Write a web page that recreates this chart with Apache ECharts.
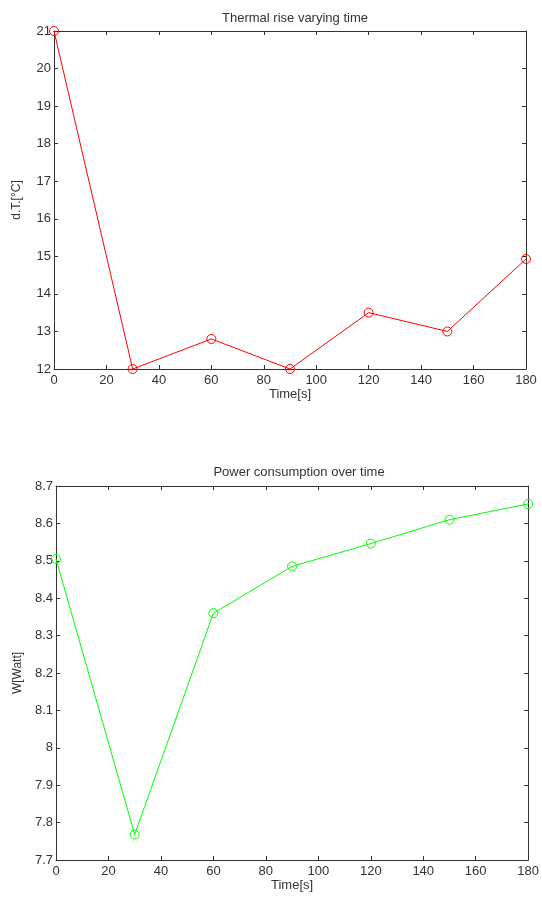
<!DOCTYPE html>
<html><head><meta charset="utf-8">
<script src="https://cdn.jsdelivr.net/npm/echarts@6/dist/echarts.min.js"></script>
<style>html,body{margin:0;padding:0;background:#fff}#c{width:542px;height:902px}</style>
</head><body><div id="c"></div>
<script>
var timeS = [0, 30, 60, 90, 120, 150, 180];
var thermalRise = [21, 12, 12.8, 12, 13.5, 13, 14.93];
var powerW = [8.505, 7.768, 8.36, 8.485, 8.546, 8.61, 8.652];
var title1 = 'Thermal rise varying time';
var title2 = 'Power consumption over time';

var FONT = 'Liberation Sans, Arial, sans-serif';
var TXT = '#333';
var AX = '#333';
function pairs(xs, ys){ return xs.map(function(x,i){return [x, ys[i]];}); }
function xAx(grid, show){
  return {type:'value', gridIndex:grid, min:0, max:180, interval:20, position: show?'bottom':'top',
    name: show?'Time[s]':'', nameLocation:'middle', nameGap:18,
    nameTextStyle:{color:TXT, fontSize:13, fontFamily:FONT},
    axisLine:{show:true, onZero:false, lineStyle:{color:AX, width:1}},
    axisTick:{show:true, inside:true, length:4, lineStyle:{color:AX}},
    axisLabel:{show:show, color:TXT, fontSize:13, fontFamily:FONT, margin:5},
    splitLine:{show:false}};
}
function yAx(grid, show, min, max, iv, name){
  return {type:'value', gridIndex:grid, min:min, max:max, interval:iv, position: show?'left':'right',
    name: show?name:'', nameLocation:'middle', nameGap:31,
    nameTextStyle:{color:TXT, fontSize:12, fontFamily:FONT},
    axisLine:{show:true, onZero:false, lineStyle:{color:AX, width:1}},
    axisTick:{show:true, inside:true, length:4, lineStyle:{color:AX}},
    axisLabel:{show:show, color:TXT, fontSize:13, fontFamily:FONT, margin:3},
    splitLine:{show:false}};
}
var chart = echarts.init(document.getElementById('c'), null, {renderer:'canvas'});
chart.setOption({
  animation:false,
  backgroundColor:'#fff',
  title:[
    {text:title1, left:290, top:7, textAlign:'center', textStyle:{color:TXT, fontSize:13, fontWeight:'normal', fontFamily:FONT}},
    {text:title2, left:294, top:461, textAlign:'center', textStyle:{color:TXT, fontSize:13, fontWeight:'normal', fontFamily:FONT}}
  ],
  grid:[
    {left:54, top:31, width:472, height:338},
    {left:56, top:486, width:476, height:374}
  ],
  xAxis:[xAx(0,true), xAx(0,false), xAx(1,true), xAx(1,false)],
  yAxis:[yAx(0,true,12,21,1,'d.T.[°C]'), yAx(0,false,12,21,1,''),
         yAx(1,true,7.7,8.7,0.1,'W[Watt]'), yAx(1,false,7.7,8.7,0.1,'')],
  series:[
    {type:'line', xAxisIndex:0, yAxisIndex:0, data:pairs(timeS, thermalRise), clip:false,
     symbol:'circle', symbolSize:9, lineStyle:{color:'#ff0000', width:1},
     itemStyle:{color:'transparent', borderColor:'#ff0000', borderWidth:1}},
    {type:'line', xAxisIndex:2, yAxisIndex:2, data:pairs(timeS, powerW), clip:false,
     symbol:'circle', symbolSize:9, lineStyle:{color:'#00ff00', width:1},
     itemStyle:{color:'transparent', borderColor:'#00ff00', borderWidth:1}}
  ]
});
</script></body></html>
